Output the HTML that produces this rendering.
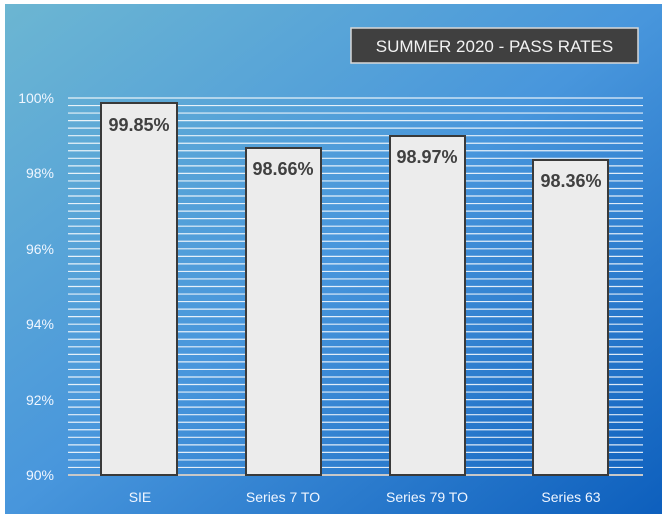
<!DOCTYPE html>
<html><head><style>
html,body{margin:0;padding:0;background:#fff;}
body{width:668px;height:522px;overflow:hidden;position:relative;font-family:"Liberation Sans",sans-serif;}
</style></head><body>
<svg width="668" height="522" xmlns="http://www.w3.org/2000/svg">
<defs>
<linearGradient id="bg" x1="0" y1="0" x2="1" y2="1">
<stop offset="0" stop-color="#6cb6d2"/>
<stop offset="0.5" stop-color="#4896dc"/>
<stop offset="1" stop-color="#0d5fbd"/>
</linearGradient>
</defs>
<rect x="5" y="4" width="657" height="510" fill="url(#bg)"/>
<g id="grid" stroke="#ffffff" stroke-width="1.2" opacity="0.85"></g>
<g font-family="Liberation Sans, sans-serif" font-size="14" fill="#f0f6ff" text-anchor="end">
<text x="54" y="103">100%</text>
<text x="54" y="178">98%</text>
<text x="54" y="254">96%</text>
<text x="54" y="329">94%</text>
<text x="54" y="405">92%</text>
<text x="54" y="480">90%</text>
</g>
<line x1="68" y1="475" x2="643" y2="475" stroke="#c8c8c8" stroke-width="2"/>
<g fill="#ececec" stroke="#3a3a3a" stroke-width="2">
<rect x="101" y="103" width="76" height="372"/>
<rect x="246" y="148" width="75" height="327"/>
<rect x="390" y="136" width="75" height="339"/>
<rect x="533" y="160" width="75" height="315"/>
</g>
<g font-family="Liberation Sans Narrow, Liberation Sans, sans-serif" font-weight="bold" font-size="18" fill="#404040" text-anchor="middle">
<text x="139" y="131">99.85%</text>
<text x="283" y="175">98.66%</text>
<text x="427" y="163">98.97%</text>
<text x="571" y="187">98.36%</text>
</g>
<g font-size="14" fill="#f0f6ff" text-anchor="middle">
<text x="140" y="502">SIE</text>
<text x="283" y="502">Series 7 TO</text>
<text x="427" y="502">Series 79 TO</text>
<text x="571" y="502">Series 63</text>
</g>
<rect x="351" y="28" width="287" height="35" fill="#404040" stroke="#d8d8d8" stroke-width="1.5"/>
<text x="494.5" y="52" font-size="17" fill="#f2f2f2" text-anchor="middle">SUMMER 2020 - PASS RATES</text>
</svg>
<script>
var g=document.getElementById('grid');
for(var i=0;i<50;i++){var y=98+i*7.54;var l=document.createElementNS('http://www.w3.org/2000/svg','line');
l.setAttribute('x1',68);l.setAttribute('x2',643);l.setAttribute('y1',y);l.setAttribute('y2',y);g.appendChild(l);}
</script>
</body></html>
